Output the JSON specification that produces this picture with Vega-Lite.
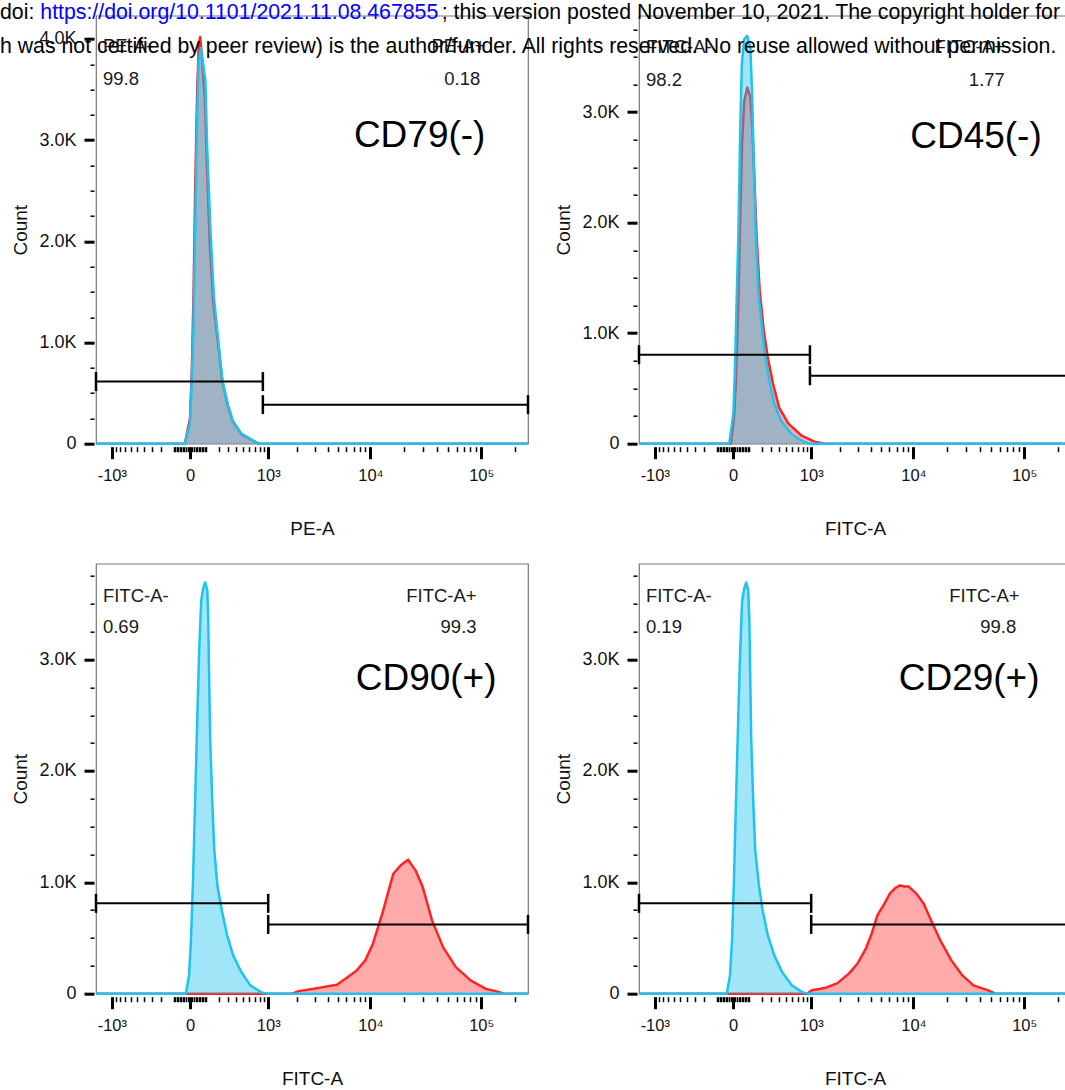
{
"$schema": "https://vega.github.io/schema/vega-lite/v6.json",
"background": "white",
"padding": {"left": 0, "top": 1.7, "right": 0, "bottom": 0},
"title": {"text": "doi:", "subtitle": "h was not certified by peer review) is the author/funder. All rights reserved. No reuse allowed without permission.", "anchor": "start", "frame": "group", "dx": -96, "offset": -55.3},
"datasets": {
"hist": [
{"panel":1,"series":"cyan","x":-1480,"count":0},{"panel":1,"series":"cyan","x":-28,"count":0},{"panel":1,"series":"cyan","x":0,"count":198},{"panel":1,"series":"cyan","x":9,"count":624},{"panel":1,"series":"cyan","x":18,"count":1119},{"panel":1,"series":"cyan","x":28,"count":2109},{"panel":1,"series":"cyan","x":38,"count":3099},{"panel":1,"series":"cyan","x":48,"count":3762},{"panel":1,"series":"cyan","x":63,"count":3910},{"panel":1,"series":"cyan","x":93,"count":3594},{"panel":1,"series":"cyan","x":106,"count":2930},{"panel":1,"series":"cyan","x":131,"count":2109},{"panel":1,"series":"cyan","x":159,"count":1445},{"panel":1,"series":"cyan","x":204,"count":950},{"panel":1,"series":"cyan","x":238,"count":624},{"panel":1,"series":"cyan","x":292,"count":396},{"panel":1,"series":"cyan","x":353,"count":228},{"panel":1,"series":"cyan","x":468,"count":99},{"panel":1,"series":"cyan","x":637,"count":40},{"panel":1,"series":"cyan","x":778,"count":0},{"panel":1,"series":"cyan","x":262144,"count":0},
{"panel":1,"series":"red","x":-1480,"count":0},{"panel":1,"series":"red","x":-28,"count":0},{"panel":1,"series":"red","x":0,"count":250},{"panel":1,"series":"red","x":10,"count":750},{"panel":1,"series":"red","x":19,"count":1500},{"panel":1,"series":"red","x":29,"count":2600},{"panel":1,"series":"red","x":40,"count":3500},{"panel":1,"series":"red","x":50,"count":3950},{"panel":1,"series":"red","x":58,"count":4020},{"panel":1,"series":"red","x":68,"count":3850},{"panel":1,"series":"red","x":90,"count":3400},{"panel":1,"series":"red","x":103,"count":2800},{"panel":1,"series":"red","x":125,"count":2000},{"panel":1,"series":"red","x":153,"count":1400},{"panel":1,"series":"red","x":200,"count":950},{"panel":1,"series":"red","x":235,"count":620},{"panel":1,"series":"red","x":290,"count":390},{"panel":1,"series":"red","x":350,"count":225},{"panel":1,"series":"red","x":470,"count":95},{"panel":1,"series":"red","x":640,"count":35},{"panel":1,"series":"red","x":780,"count":0},{"panel":1,"series":"red","x":262144,"count":0},
{"panel":2,"series":"cyan","x":-1480,"count":0},{"panel":2,"series":"cyan","x":-20,"count":0},{"panel":2,"series":"cyan","x":2,"count":272},{"panel":2,"series":"cyan","x":11,"count":724},{"panel":2,"series":"cyan","x":20,"count":1321},{"panel":2,"series":"cyan","x":30,"count":1928},{"panel":2,"series":"cyan","x":40,"count":2833},{"panel":2,"series":"cyan","x":50,"count":3439},{"panel":2,"series":"cyan","x":65,"count":3660},{"panel":2,"series":"cyan","x":84,"count":3692},{"panel":2,"series":"cyan","x":108,"count":3584},{"panel":2,"series":"cyan","x":121,"count":3131},{"panel":2,"series":"cyan","x":134,"count":2534},{"panel":2,"series":"cyan","x":148,"count":1928},{"panel":2,"series":"cyan","x":176,"count":1321},{"panel":2,"series":"cyan","x":224,"count":869},{"panel":2,"series":"cyan","x":277,"count":570},{"panel":2,"series":"cyan","x":335,"count":362},{"panel":2,"series":"cyan","x":422,"count":208},{"panel":2,"series":"cyan","x":583,"count":90},{"panel":2,"series":"cyan","x":778,"count":27},{"panel":2,"series":"cyan","x":937,"count":0},{"panel":2,"series":"cyan","x":262144,"count":0},
{"panel":2,"series":"red","x":-1480,"count":0},{"panel":2,"series":"red","x":-11,"count":0},{"panel":2,"series":"red","x":5,"count":226},{"panel":2,"series":"red","x":16,"count":588},{"panel":2,"series":"red","x":28,"count":1204},{"panel":2,"series":"red","x":40,"count":2063},{"panel":2,"series":"red","x":52,"count":2742},{"panel":2,"series":"red","x":65,"count":3104},{"panel":2,"series":"red","x":86,"count":3222},{"panel":2,"series":"red","x":108,"count":3131},{"panel":2,"series":"red","x":123,"count":2833},{"panel":2,"series":"red","x":139,"count":2380},{"panel":2,"series":"red","x":156,"count":1882},{"panel":2,"series":"red","x":183,"count":1385},{"panel":2,"series":"red","x":221,"count":1023},{"panel":2,"series":"red","x":262,"count":778},{"panel":2,"series":"red","x":320,"count":543},{"panel":2,"series":"red","x":396,"count":326},{"panel":2,"series":"red","x":532,"count":181},{"panel":2,"series":"red","x":778,"count":72},{"panel":2,"series":"red","x":1085,"count":18},{"panel":2,"series":"red","x":1400,"count":0},{"panel":2,"series":"red","x":262144,"count":0},
{"panel":3,"series":"cyan","x":-1480,"count":0},{"panel":3,"series":"cyan","x":-22,"count":0},{"panel":3,"series":"cyan","x":-5,"count":164},{"panel":3,"series":"cyan","x":5,"count":478},{"panel":3,"series":"cyan","x":16,"count":1017},{"panel":3,"series":"cyan","x":28,"count":1737},{"panel":3,"series":"cyan","x":40,"count":2453},{"panel":3,"series":"cyan","x":52,"count":3082},{"panel":3,"series":"cyan","x":65,"count":3530},{"panel":3,"series":"cyan","x":78,"count":3638},{"panel":3,"series":"cyan","x":92,"count":3692},{"panel":3,"series":"cyan","x":107,"count":3620},{"panel":3,"series":"cyan","x":114,"count":3351},{"panel":3,"series":"cyan","x":121,"count":2813},{"panel":3,"series":"cyan","x":129,"count":2274},{"panel":3,"series":"cyan","x":145,"count":1737},{"panel":3,"series":"cyan","x":162,"count":1288},{"panel":3,"series":"cyan","x":189,"count":974},{"panel":3,"series":"cyan","x":231,"count":749},{"panel":3,"series":"cyan","x":287,"count":524},{"panel":3,"series":"cyan","x":358,"count":344},{"panel":3,"series":"cyan","x":470,"count":192},{"panel":3,"series":"cyan","x":616,"count":75},{"panel":3,"series":"cyan","x":839,"count":12},{"panel":3,"series":"cyan","x":1000,"count":0},{"panel":3,"series":"cyan","x":262144,"count":0},
{"panel":3,"series":"red","x":-1480,"count":0},{"panel":3,"series":"red","x":1800,"count":0},{"panel":3,"series":"red","x":2080,"count":23},{"panel":3,"series":"red","x":2965,"count":45},{"panel":3,"series":"red","x":3585,"count":59},{"panel":3,"series":"red","x":4888,"count":81},{"panel":3,"series":"red","x":5880,"count":135},{"panel":3,"series":"red","x":7480,"count":209},{"panel":3,"series":"red","x":8970,"count":299},{"panel":3,"series":"red","x":10540,"count":449},{"panel":3,"series":"red","x":12830,"count":718},{"panel":3,"series":"red","x":14950,"count":957},{"panel":3,"series":"red","x":16180,"count":1077},{"panel":3,"series":"red","x":18830,"count":1152},{"panel":3,"series":"red","x":22000,"count":1203},{"panel":3,"series":"red","x":25640,"count":1107},{"panel":3,"series":"red","x":29830,"count":957},{"panel":3,"series":"red","x":36170,"count":658},{"panel":3,"series":"red","x":45430,"count":418},{"panel":3,"series":"red","x":59170,"count":239},{"panel":3,"series":"red","x":80330,"count":119},{"panel":3,"series":"red","x":109000,"count":45},{"panel":3,"series":"red","x":137400,"count":21},{"panel":3,"series":"red","x":160000,"count":0},{"panel":3,"series":"red","x":262144,"count":0},
{"panel":4,"series":"cyan","x":-1480,"count":0},{"panel":4,"series":"cyan","x":-34,"count":0},{"panel":4,"series":"cyan","x":-16,"count":164},{"panel":4,"series":"cyan","x":-5,"count":478},{"panel":4,"series":"cyan","x":5,"count":1017},{"panel":4,"series":"cyan","x":16,"count":1737},{"panel":4,"series":"cyan","x":28,"count":2453},{"panel":4,"series":"cyan","x":40,"count":3082},{"panel":4,"series":"cyan","x":52,"count":3530},{"panel":4,"series":"cyan","x":65,"count":3638},{"panel":4,"series":"cyan","x":78,"count":3692},{"panel":4,"series":"cyan","x":92,"count":3620},{"panel":4,"series":"cyan","x":100,"count":3351},{"panel":4,"series":"cyan","x":107,"count":2813},{"panel":4,"series":"cyan","x":114,"count":2274},{"panel":4,"series":"cyan","x":129,"count":1737},{"panel":4,"series":"cyan","x":145,"count":1288},{"panel":4,"series":"cyan","x":176,"count":974},{"panel":4,"series":"cyan","x":210,"count":749},{"panel":4,"series":"cyan","x":262,"count":524},{"panel":4,"series":"cyan","x":335,"count":344},{"panel":4,"series":"cyan","x":439,"count":192},{"panel":4,"series":"cyan","x":589,"count":75},{"panel":4,"series":"cyan","x":800,"count":12},{"panel":4,"series":"cyan","x":950,"count":0},{"panel":4,"series":"cyan","x":262144,"count":0},
{"panel":4,"series":"red","x":-1480,"count":0},{"panel":4,"series":"red","x":900,"count":0},{"panel":4,"series":"red","x":1017,"count":30},{"panel":4,"series":"red","x":1448,"count":54},{"panel":4,"series":"red","x":1896,"count":95},{"panel":4,"series":"red","x":2464,"count":180},{"panel":4,"series":"red","x":2986,"count":269},{"panel":4,"series":"red","x":3603,"count":404},{"panel":4,"series":"red","x":4088,"count":539},{"panel":4,"series":"red","x":4628,"count":703},{"panel":4,"series":"red","x":5395,"count":808},{"panel":4,"series":"red","x":6100,"count":903},{"panel":4,"series":"red","x":6875,"count":952},{"panel":4,"series":"red","x":7530,"count":972},{"panel":4,"series":"red","x":8250,"count":963},{"panel":4,"series":"red","x":9000,"count":963},{"panel":4,"series":"red","x":10650,"count":898},{"panel":4,"series":"red","x":12430,"count":808},{"panel":4,"series":"red","x":14500,"count":658},{"panel":4,"series":"red","x":17570,"count":478},{"panel":4,"series":"red","x":22130,"count":299},{"panel":4,"series":"red","x":27850,"count":164},{"panel":4,"series":"red","x":35000,"count":75},{"panel":4,"series":"red","x":47550,"count":30},{"panel":4,"series":"red","x":55000,"count":0},{"panel":4,"series":"red","x":262144,"count":0}
],
"gates": [
{"panel":1,"gate":"neg","xa":-1480,"xb":870,"count":614},{"panel":1,"gate":"pos","xa":870,"xb":262144,"count":386},
{"panel":2,"gate":"neg","xa":-1480,"xb":968,"count":805},{"panel":2,"gate":"pos","xa":968,"xb":262144,"count":615},
{"panel":3,"gate":"neg","xa":-1480,"xb":1000,"count":811},{"panel":3,"gate":"pos","xa":1000,"xb":262144,"count":622},
{"panel":4,"gate":"neg","xa":-1480,"xb":1000,"count":811},{"panel":4,"gate":"pos","xa":1000,"xb":262144,"count":622}
],
"labels": [
{"panel":1,"side":"neg","role":"gate","text":"PE-A-","x":-1250,"count":3871},{"panel":1,"side":"neg","role":"pct","text":"99.8","x":-1250,"count":3544},{"panel":1,"side":"pos","role":"gate","text":"PE-A+","x":109000,"count":3871},{"panel":1,"side":"pos","role":"pct","text":"0.18","x":98000,"count":3544},{"panel":1,"side":"pos","role":"marker","text":"CD79(-)","x":109000,"count":2930},
{"panel":2,"side":"neg","role":"gate","text":"FITC-A-","x":-1250,"count":3539},{"panel":2,"side":"neg","role":"pct","text":"98.2","x":-1250,"count":3240},{"panel":2,"side":"pos","role":"gate","text":"FITC-A+","x":67000,"count":3539},{"panel":2,"side":"pos","role":"pct","text":"1.77","x":67000,"count":3240},{"panel":2,"side":"pos","role":"marker","text":"CD45(-)","x":143500,"count":2679},
{"panel":3,"side":"neg","role":"gate","text":"FITC-A-","x":-1250,"count":3513},{"panel":3,"side":"neg","role":"pct","text":"0.69","x":-1250,"count":3234},{"panel":3,"side":"pos","role":"gate","text":"FITC-A+","x":90800,"count":3513},{"panel":3,"side":"pos","role":"pct","text":"99.3","x":90800,"count":3234},{"panel":3,"side":"pos","role":"marker","text":"CD90(+)","x":137000,"count":2723},
{"panel":4,"side":"neg","role":"gate","text":"FITC-A-","x":-1250,"count":3513},{"panel":4,"side":"neg","role":"pct","text":"0.19","x":-1250,"count":3234},{"panel":4,"side":"pos","role":"gate","text":"FITC-A+","x":90800,"count":3513},{"panel":4,"side":"pos","role":"pct","text":"99.8","x":84800,"count":3234},{"panel":4,"side":"pos","role":"marker","text":"CD29(+)","x":137000,"count":2723}
]
},
"concat": [
{"width": 432, "height": 428,
 "title": {"text": "https://doi.org/10.1101/2021.11.08.467855", "color": "#0000FF", "anchor": "start", "frame": "group", "dx": -55.7, "offset": -8},
 "layer": [
  {"data": {"name": "hist"}, "transform": [{"filter": "datum.panel == 1 && datum.series == 'red'"}], "mark": {"type": "area", "fill": "#FF0000", "fillOpacity": 0.33},
   "encoding": {"x": {"field": "x", "type": "quantitative", "scale": {"type": "symlog", "constant": 250, "domain": [-1480, 262144], "nice": false, "zero": false},
     "axis": {"title": "PE-A", "tickCount": 100, "labelOverlap": false, "labelFontSize": 16.5, "labelPadding": 9, "titlePadding": 35, "values": [-1000,-900,-800,-700,-600,-500,-400,-300,-200,-100,-90,-80,-70,-60,-50,-40,-30,-20,-10,0,10,20,30,40,50,60,70,80,90,100,200,300,400,500,600,700,800,900,1000,2000,3000,4000,5000,6000,7000,8000,9000,10000,20000,30000,40000,50000,60000,70000,80000,90000,100000,200000],
       "labelExpr": "datum.value == 0 ? '0' : datum.value == -1000 ? '-10³' : datum.value == 1000 ? '10³' : datum.value == 10000 ? '10⁴' : datum.value == 100000 ? '10⁵' : ''",
       "tickSize": {"condition": {"test": "indexof([-1000,0,1000,10000,100000], datum.value) >= 0", "value": 12}, "value": 5},
       "tickWidth": {"condition": {"test": "indexof([-1000,0,1000,10000,100000], datum.value) >= 0", "value": 3}, "value": 1.5}}},
    "y": {"field": "count", "type": "quantitative", "scale": {"domain": [0, 4230], "nice": false, "zero": true},
     "axis": {"title": "Count", "tickCount": 100, "labelOverlap": false, "labelFontSize": 18, "labelPadding": 8, "titlePadding": 8, "values": [0,250,500,750,1000,1250,1500,1750,2000,2250,2500,2750,3000,3250,3500,3750,4000],
       "labelExpr": "datum.value % 1000 == 0 ? (datum.value == 0 ? '0' : format(datum.value / 1000, '.1f') + 'K') : ''",
       "tickSize": {"condition": {"test": "datum.value % 1000 == 0", "value": 10}, "value": 4},
       "tickWidth": {"condition": {"test": "datum.value % 1000 == 0", "value": 3}, "value": 1.5}}}}},
  {"data": {"name": "hist"}, "transform": [{"filter": "datum.panel == 1 && datum.series == 'red'"}], "mark": {"type": "line", "stroke": "#FF2424", "strokeWidth": 2.5, "strokeJoin": "round"},
   "encoding": {"x": {"field": "x", "type": "quantitative"}, "y": {"field": "count", "type": "quantitative"}}},
  {"data": {"name": "hist"}, "transform": [{"filter": "datum.panel == 1 && datum.series == 'cyan'"}], "mark": {"type": "area", "fill": "#11C0ED", "fillOpacity": 0.4},
   "encoding": {"x": {"field": "x", "type": "quantitative"}, "y": {"field": "count", "type": "quantitative"}}},
  {"data": {"name": "hist"}, "transform": [{"filter": "datum.panel == 1 && datum.series == 'cyan'"}], "mark": {"type": "line", "stroke": "#1EC3F0", "strokeWidth": 2.5, "strokeJoin": "round"},
   "encoding": {"x": {"field": "x", "type": "quantitative"}, "y": {"field": "count", "type": "quantitative"}}},
  {"data": {"name": "gates"}, "transform": [{"filter": "datum.panel == 1"}], "mark": {"type": "rule", "stroke": "#000", "strokeWidth": 2},
   "encoding": {"x": {"field": "xa", "type": "quantitative"}, "x2": {"field": "xb"}, "y": {"field": "count", "type": "quantitative"}}},
  {"data": {"name": "gates"}, "transform": [{"filter": "datum.panel == 1"}, {"fold": ["xa", "xb"], "as": ["end", "xe"]}], "mark": {"type": "tick", "orient": "vertical", "size": 19, "thickness": 2.5, "color": "#000", "opacity": 1},
   "encoding": {"x": {"field": "xe", "type": "quantitative"}, "y": {"field": "count", "type": "quantitative"}}},
  {"data": {"name": "labels"}, "transform": [{"filter": "datum.panel == 1 && datum.side == 'neg'"}], "mark": {"type": "text", "align": "left", "baseline": "alphabetic", "fontSize": 18.5, "color": "#1a1a1a"},
   "encoding": {"x": {"field": "x", "type": "quantitative"}, "y": {"field": "count", "type": "quantitative"}, "text": {"field": "text"}}},
  {"data": {"name": "labels"}, "transform": [{"filter": "datum.panel == 1 && datum.side == 'pos' && datum.role != 'marker'"}], "mark": {"type": "text", "align": "right", "baseline": "alphabetic", "fontSize": 18.5, "color": "#1a1a1a"},
   "encoding": {"x": {"field": "x", "type": "quantitative"}, "y": {"field": "count", "type": "quantitative"}, "text": {"field": "text"}}},
  {"data": {"name": "labels"}, "transform": [{"filter": "datum.panel == 1 && datum.role == 'marker'"}], "mark": {"type": "text", "align": "right", "baseline": "alphabetic", "fontSize": 37, "color": "#000"},
   "encoding": {"x": {"field": "x", "type": "quantitative"}, "y": {"field": "count", "type": "quantitative"}, "text": {"field": "text"}}}
 ]},
{"width": 432, "height": 428,
 "title": {"text": "; this version posted November 10, 2021. The copyright holder for", "color": "#000", "anchor": "start", "frame": "group", "dx": -197.3, "offset": -8},
 "layer": [
  {"data": {"name": "hist"}, "transform": [{"filter": "datum.panel == 2 && datum.series == 'red'"}], "mark": {"type": "area", "fill": "#FF0000", "fillOpacity": 0.33},
   "encoding": {"x": {"field": "x", "type": "quantitative", "scale": {"type": "symlog", "constant": 250, "domain": [-1480, 262144], "nice": false, "zero": false},
     "axis": {"title": "FITC-A", "tickCount": 100, "labelOverlap": false, "labelFontSize": 16.5, "labelPadding": 9, "titlePadding": 35, "values": [-1000,-900,-800,-700,-600,-500,-400,-300,-200,-100,-90,-80,-70,-60,-50,-40,-30,-20,-10,0,10,20,30,40,50,60,70,80,90,100,200,300,400,500,600,700,800,900,1000,2000,3000,4000,5000,6000,7000,8000,9000,10000,20000,30000,40000,50000,60000,70000,80000,90000,100000,200000],
       "labelExpr": "datum.value == 0 ? '0' : datum.value == -1000 ? '-10³' : datum.value == 1000 ? '10³' : datum.value == 10000 ? '10⁴' : datum.value == 100000 ? '10⁵' : ''",
       "tickSize": {"condition": {"test": "indexof([-1000,0,1000,10000,100000], datum.value) >= 0", "value": 12}, "value": 5},
       "tickWidth": {"condition": {"test": "indexof([-1000,0,1000,10000,100000], datum.value) >= 0", "value": 3}, "value": 1.5}}},
    "y": {"field": "count", "type": "quantitative", "scale": {"domain": [0, 3873], "nice": false, "zero": true},
     "axis": {"title": "Count", "tickCount": 100, "labelOverlap": false, "labelFontSize": 18, "labelPadding": 8, "titlePadding": 8, "values": [0,250,500,750,1000,1250,1500,1750,2000,2250,2500,2750,3000,3250,3500,3750],
       "labelExpr": "datum.value % 1000 == 0 ? (datum.value == 0 ? '0' : format(datum.value / 1000, '.1f') + 'K') : ''",
       "tickSize": {"condition": {"test": "datum.value % 1000 == 0", "value": 10}, "value": 4},
       "tickWidth": {"condition": {"test": "datum.value % 1000 == 0", "value": 3}, "value": 1.5}}}}},
  {"data": {"name": "hist"}, "transform": [{"filter": "datum.panel == 2 && datum.series == 'red'"}], "mark": {"type": "line", "stroke": "#FF2424", "strokeWidth": 2.5, "strokeJoin": "round"},
   "encoding": {"x": {"field": "x", "type": "quantitative"}, "y": {"field": "count", "type": "quantitative"}}},
  {"data": {"name": "hist"}, "transform": [{"filter": "datum.panel == 2 && datum.series == 'cyan'"}], "mark": {"type": "area", "fill": "#11C0ED", "fillOpacity": 0.4},
   "encoding": {"x": {"field": "x", "type": "quantitative"}, "y": {"field": "count", "type": "quantitative"}}},
  {"data": {"name": "hist"}, "transform": [{"filter": "datum.panel == 2 && datum.series == 'cyan'"}], "mark": {"type": "line", "stroke": "#1EC3F0", "strokeWidth": 2.5, "strokeJoin": "round"},
   "encoding": {"x": {"field": "x", "type": "quantitative"}, "y": {"field": "count", "type": "quantitative"}}},
  {"data": {"name": "gates"}, "transform": [{"filter": "datum.panel == 2"}], "mark": {"type": "rule", "stroke": "#000", "strokeWidth": 2},
   "encoding": {"x": {"field": "xa", "type": "quantitative"}, "x2": {"field": "xb"}, "y": {"field": "count", "type": "quantitative"}}},
  {"data": {"name": "gates"}, "transform": [{"filter": "datum.panel == 2"}, {"fold": ["xa", "xb"], "as": ["end", "xe"]}], "mark": {"type": "tick", "orient": "vertical", "size": 19, "thickness": 2.5, "color": "#000", "opacity": 1},
   "encoding": {"x": {"field": "xe", "type": "quantitative"}, "y": {"field": "count", "type": "quantitative"}}},
  {"data": {"name": "labels"}, "transform": [{"filter": "datum.panel == 2 && datum.side == 'neg'"}], "mark": {"type": "text", "align": "left", "baseline": "alphabetic", "fontSize": 18.5, "color": "#1a1a1a"},
   "encoding": {"x": {"field": "x", "type": "quantitative"}, "y": {"field": "count", "type": "quantitative"}, "text": {"field": "text"}}},
  {"data": {"name": "labels"}, "transform": [{"filter": "datum.panel == 2 && datum.side == 'pos' && datum.role != 'marker'"}], "mark": {"type": "text", "align": "right", "baseline": "alphabetic", "fontSize": 18.5, "color": "#1a1a1a"},
   "encoding": {"x": {"field": "x", "type": "quantitative"}, "y": {"field": "count", "type": "quantitative"}, "text": {"field": "text"}}},
  {"data": {"name": "labels"}, "transform": [{"filter": "datum.panel == 2 && datum.role == 'marker'"}], "mark": {"type": "text", "align": "right", "baseline": "alphabetic", "fontSize": 37, "color": "#000"},
   "encoding": {"x": {"field": "x", "type": "quantitative"}, "y": {"field": "count", "type": "quantitative"}, "text": {"field": "text"}}}
 ]},
{"width": 432, "height": 430,
 "layer": [
  {"data": {"name": "hist"}, "transform": [{"filter": "datum.panel == 3 && datum.series == 'red'"}], "mark": {"type": "area", "fill": "#FF0000", "fillOpacity": 0.33},
   "encoding": {"x": {"field": "x", "type": "quantitative", "scale": {"type": "symlog", "constant": 250, "domain": [-1480, 262144], "nice": false, "zero": false},
     "axis": {"title": "FITC-A", "tickCount": 100, "labelOverlap": false, "labelFontSize": 16.5, "labelPadding": 9, "titlePadding": 35, "values": [-1000,-900,-800,-700,-600,-500,-400,-300,-200,-100,-90,-80,-70,-60,-50,-40,-30,-20,-10,0,10,20,30,40,50,60,70,80,90,100,200,300,400,500,600,700,800,900,1000,2000,3000,4000,5000,6000,7000,8000,9000,10000,20000,30000,40000,50000,60000,70000,80000,90000,100000,200000],
       "labelExpr": "datum.value == 0 ? '0' : datum.value == -1000 ? '-10³' : datum.value == 1000 ? '10³' : datum.value == 10000 ? '10⁴' : datum.value == 100000 ? '10⁵' : ''",
       "tickSize": {"condition": {"test": "indexof([-1000,0,1000,10000,100000], datum.value) >= 0", "value": 12}, "value": 5},
       "tickWidth": {"condition": {"test": "indexof([-1000,0,1000,10000,100000], datum.value) >= 0", "value": 3}, "value": 1.5}}},
    "y": {"field": "count", "type": "quantitative", "scale": {"domain": [0, 3860], "nice": false, "zero": true},
     "axis": {"title": "Count", "tickCount": 100, "labelOverlap": false, "labelFontSize": 18, "labelPadding": 8, "titlePadding": 8, "values": [0,250,500,750,1000,1250,1500,1750,2000,2250,2500,2750,3000,3250,3500,3750],
       "labelExpr": "datum.value % 1000 == 0 ? (datum.value == 0 ? '0' : format(datum.value / 1000, '.1f') + 'K') : ''",
       "tickSize": {"condition": {"test": "datum.value % 1000 == 0", "value": 10}, "value": 4},
       "tickWidth": {"condition": {"test": "datum.value % 1000 == 0", "value": 3}, "value": 1.5}}}}},
  {"data": {"name": "hist"}, "transform": [{"filter": "datum.panel == 3 && datum.series == 'red'"}], "mark": {"type": "line", "stroke": "#FF2424", "strokeWidth": 2.5, "strokeJoin": "round"},
   "encoding": {"x": {"field": "x", "type": "quantitative"}, "y": {"field": "count", "type": "quantitative"}}},
  {"data": {"name": "hist"}, "transform": [{"filter": "datum.panel == 3 && datum.series == 'cyan'"}], "mark": {"type": "area", "fill": "#11C0ED", "fillOpacity": 0.4},
   "encoding": {"x": {"field": "x", "type": "quantitative"}, "y": {"field": "count", "type": "quantitative"}}},
  {"data": {"name": "hist"}, "transform": [{"filter": "datum.panel == 3 && datum.series == 'cyan'"}], "mark": {"type": "line", "stroke": "#1EC3F0", "strokeWidth": 2.5, "strokeJoin": "round"},
   "encoding": {"x": {"field": "x", "type": "quantitative"}, "y": {"field": "count", "type": "quantitative"}}},
  {"data": {"name": "gates"}, "transform": [{"filter": "datum.panel == 3"}], "mark": {"type": "rule", "stroke": "#000", "strokeWidth": 2},
   "encoding": {"x": {"field": "xa", "type": "quantitative"}, "x2": {"field": "xb"}, "y": {"field": "count", "type": "quantitative"}}},
  {"data": {"name": "gates"}, "transform": [{"filter": "datum.panel == 3"}, {"fold": ["xa", "xb"], "as": ["end", "xe"]}], "mark": {"type": "tick", "orient": "vertical", "size": 19, "thickness": 2.5, "color": "#000", "opacity": 1},
   "encoding": {"x": {"field": "xe", "type": "quantitative"}, "y": {"field": "count", "type": "quantitative"}}},
  {"data": {"name": "labels"}, "transform": [{"filter": "datum.panel == 3 && datum.side == 'neg'"}], "mark": {"type": "text", "align": "left", "baseline": "alphabetic", "fontSize": 18.5, "color": "#1a1a1a"},
   "encoding": {"x": {"field": "x", "type": "quantitative"}, "y": {"field": "count", "type": "quantitative"}, "text": {"field": "text"}}},
  {"data": {"name": "labels"}, "transform": [{"filter": "datum.panel == 3 && datum.side == 'pos' && datum.role != 'marker'"}], "mark": {"type": "text", "align": "right", "baseline": "alphabetic", "fontSize": 18.5, "color": "#1a1a1a"},
   "encoding": {"x": {"field": "x", "type": "quantitative"}, "y": {"field": "count", "type": "quantitative"}, "text": {"field": "text"}}},
  {"data": {"name": "labels"}, "transform": [{"filter": "datum.panel == 3 && datum.role == 'marker'"}], "mark": {"type": "text", "align": "right", "baseline": "alphabetic", "fontSize": 37, "color": "#000"},
   "encoding": {"x": {"field": "x", "type": "quantitative"}, "y": {"field": "count", "type": "quantitative"}, "text": {"field": "text"}}}
 ]},
{"width": 432, "height": 430,
 "layer": [
  {"data": {"name": "hist"}, "transform": [{"filter": "datum.panel == 4 && datum.series == 'red'"}], "mark": {"type": "area", "fill": "#FF0000", "fillOpacity": 0.33},
   "encoding": {"x": {"field": "x", "type": "quantitative", "scale": {"type": "symlog", "constant": 250, "domain": [-1480, 262144], "nice": false, "zero": false},
     "axis": {"title": "FITC-A", "tickCount": 100, "labelOverlap": false, "labelFontSize": 16.5, "labelPadding": 9, "titlePadding": 35, "values": [-1000,-900,-800,-700,-600,-500,-400,-300,-200,-100,-90,-80,-70,-60,-50,-40,-30,-20,-10,0,10,20,30,40,50,60,70,80,90,100,200,300,400,500,600,700,800,900,1000,2000,3000,4000,5000,6000,7000,8000,9000,10000,20000,30000,40000,50000,60000,70000,80000,90000,100000,200000],
       "labelExpr": "datum.value == 0 ? '0' : datum.value == -1000 ? '-10³' : datum.value == 1000 ? '10³' : datum.value == 10000 ? '10⁴' : datum.value == 100000 ? '10⁵' : ''",
       "tickSize": {"condition": {"test": "indexof([-1000,0,1000,10000,100000], datum.value) >= 0", "value": 12}, "value": 5},
       "tickWidth": {"condition": {"test": "indexof([-1000,0,1000,10000,100000], datum.value) >= 0", "value": 3}, "value": 1.5}}},
    "y": {"field": "count", "type": "quantitative", "scale": {"domain": [0, 3860], "nice": false, "zero": true},
     "axis": {"title": "Count", "tickCount": 100, "labelOverlap": false, "labelFontSize": 18, "labelPadding": 8, "titlePadding": 8, "values": [0,250,500,750,1000,1250,1500,1750,2000,2250,2500,2750,3000,3250,3500,3750],
       "labelExpr": "datum.value % 1000 == 0 ? (datum.value == 0 ? '0' : format(datum.value / 1000, '.1f') + 'K') : ''",
       "tickSize": {"condition": {"test": "datum.value % 1000 == 0", "value": 10}, "value": 4},
       "tickWidth": {"condition": {"test": "datum.value % 1000 == 0", "value": 3}, "value": 1.5}}}}},
  {"data": {"name": "hist"}, "transform": [{"filter": "datum.panel == 4 && datum.series == 'red'"}], "mark": {"type": "line", "stroke": "#FF2424", "strokeWidth": 2.5, "strokeJoin": "round"},
   "encoding": {"x": {"field": "x", "type": "quantitative"}, "y": {"field": "count", "type": "quantitative"}}},
  {"data": {"name": "hist"}, "transform": [{"filter": "datum.panel == 4 && datum.series == 'cyan'"}], "mark": {"type": "area", "fill": "#11C0ED", "fillOpacity": 0.4},
   "encoding": {"x": {"field": "x", "type": "quantitative"}, "y": {"field": "count", "type": "quantitative"}}},
  {"data": {"name": "hist"}, "transform": [{"filter": "datum.panel == 4 && datum.series == 'cyan'"}], "mark": {"type": "line", "stroke": "#1EC3F0", "strokeWidth": 2.5, "strokeJoin": "round"},
   "encoding": {"x": {"field": "x", "type": "quantitative"}, "y": {"field": "count", "type": "quantitative"}}},
  {"data": {"name": "gates"}, "transform": [{"filter": "datum.panel == 4"}], "mark": {"type": "rule", "stroke": "#000", "strokeWidth": 2},
   "encoding": {"x": {"field": "xa", "type": "quantitative"}, "x2": {"field": "xb"}, "y": {"field": "count", "type": "quantitative"}}},
  {"data": {"name": "gates"}, "transform": [{"filter": "datum.panel == 4"}, {"fold": ["xa", "xb"], "as": ["end", "xe"]}], "mark": {"type": "tick", "orient": "vertical", "size": 19, "thickness": 2.5, "color": "#000", "opacity": 1},
   "encoding": {"x": {"field": "xe", "type": "quantitative"}, "y": {"field": "count", "type": "quantitative"}}},
  {"data": {"name": "labels"}, "transform": [{"filter": "datum.panel == 4 && datum.side == 'neg'"}], "mark": {"type": "text", "align": "left", "baseline": "alphabetic", "fontSize": 18.5, "color": "#1a1a1a"},
   "encoding": {"x": {"field": "x", "type": "quantitative"}, "y": {"field": "count", "type": "quantitative"}, "text": {"field": "text"}}},
  {"data": {"name": "labels"}, "transform": [{"filter": "datum.panel == 4 && datum.side == 'pos' && datum.role != 'marker'"}], "mark": {"type": "text", "align": "right", "baseline": "alphabetic", "fontSize": 18.5, "color": "#1a1a1a"},
   "encoding": {"x": {"field": "x", "type": "quantitative"}, "y": {"field": "count", "type": "quantitative"}, "text": {"field": "text"}}},
  {"data": {"name": "labels"}, "transform": [{"filter": "datum.panel == 4 && datum.role == 'marker'"}], "mark": {"type": "text", "align": "right", "baseline": "alphabetic", "fontSize": 37, "color": "#000"},
   "encoding": {"x": {"field": "x", "type": "quantitative"}, "y": {"field": "count", "type": "quantitative"}, "text": {"field": "text"}}}
 ]}
],
"columns": 2,
"spacing": {"row": 120, "column": 111},
"bounds": "flush",
"config": {
 "font": "Liberation Sans",
 "view": {"stroke": "#777", "strokeWidth": 1.2},
 "title": {"font": "Liberation Sans", "fontSize": 21.3, "fontWeight": "normal", "color": "#000", "subtitleFont": "Liberation Sans", "subtitleFontSize": 21.3, "subtitleColor": "#000", "subtitlePadding": 12.7},
 "axis": {"domain": false, "grid": false, "tickColor": "#000", "labelColor": "#111", "titleColor": "#111", "labelFont": "Liberation Sans", "titleFont": "Liberation Sans", "titleFontWeight": "normal", "titleFontSize": 19, "labelOverlap": false, "labelFlush": false, "labelBound": false},
 "axisX": {"offset": 3},
 "axisY": {"offset": 2}
}
}
